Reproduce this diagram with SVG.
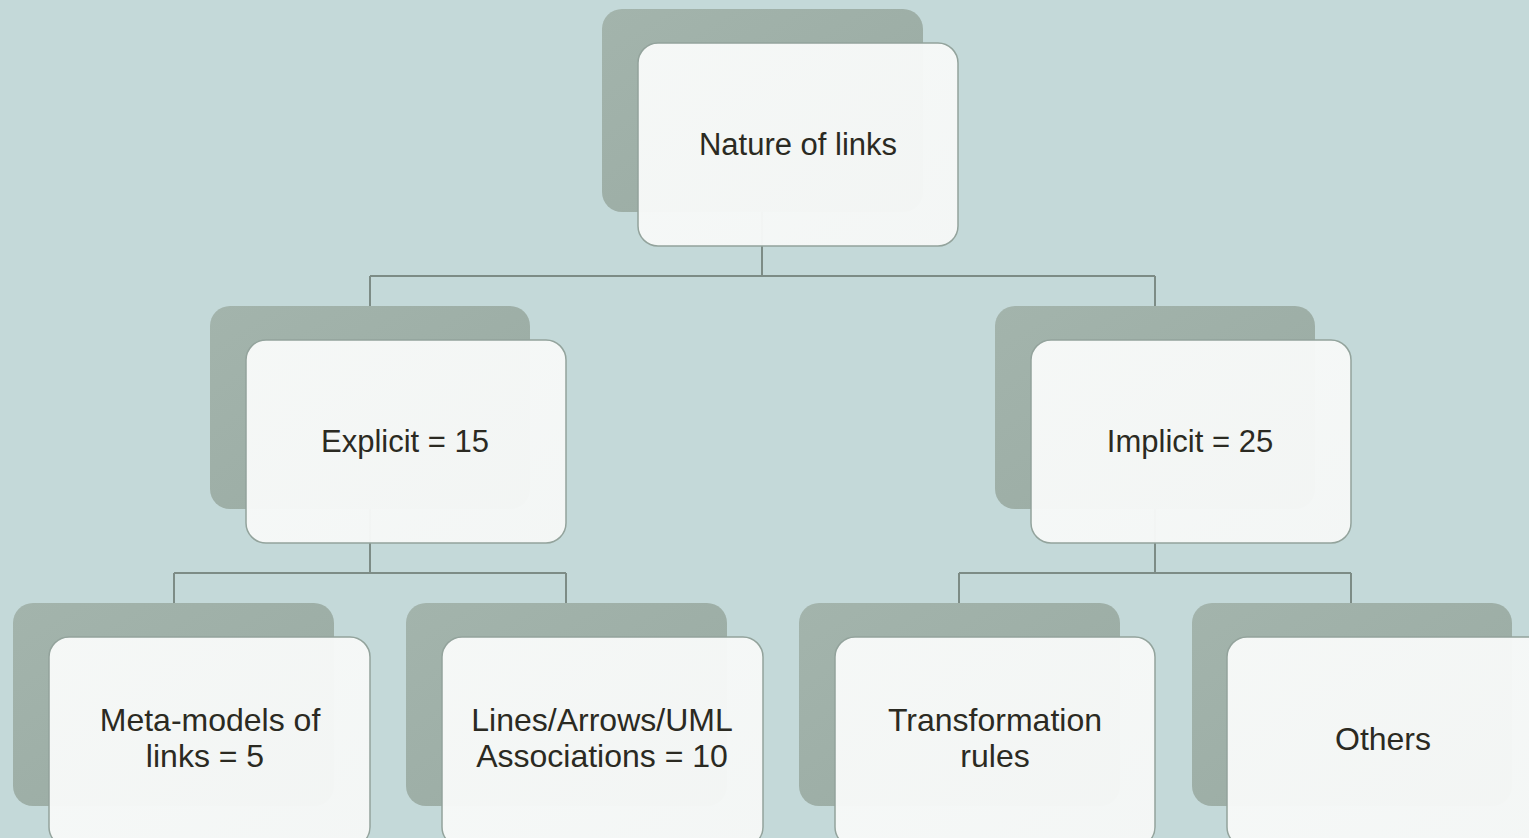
<svg xmlns="http://www.w3.org/2000/svg" width="1529" height="838" viewBox="0 0 1529 838">
  <defs>
    <linearGradient id="backFill" x1="0" y1="0" x2="1" y2="1">
      <stop offset="0" stop-color="#a3b4ac"/>
      <stop offset="1" stop-color="#99aaa2"/>
    </linearGradient>
    <linearGradient id="frontFill" x1="0" y1="0" x2="1" y2="1">
      <stop offset="0" stop-color="#f8faf9"/>
      <stop offset="1" stop-color="#f5f7f6"/>
    </linearGradient>
  </defs>
  <style>
    .back { fill: url(#backFill); }
    .front { fill: url(#frontFill); fill-opacity: 0.97; stroke: #93a39c; stroke-width: 1.5; }
    .conn { fill: none; stroke: #7d8c86; stroke-width: 2; }
    .t1 { font-family: "Liberation Sans", Arial, sans-serif; font-size: 31px; fill: #2b2a22; text-anchor: middle; }
    .t2 { font-family: "Liberation Sans", Arial, sans-serif; font-size: 32px; fill: #2b2a22; text-anchor: middle; }
  </style>
  <rect width="1529" height="838" fill="#c4d9d9"/>

  <g id="connectors">
    <path class="conn" d="M762 212 V276 M370 276 H1155 M370 276 V306 M1155 276 V306"/>
    <path class="conn" d="M370 509 V573 M174 573 H566 M174 573 V603 M566 573 V603"/>
    <path class="conn" d="M1155 509 V573 M959 573 H1351 M959 573 V603 M1351 573 V603"/>
  </g>

  <g id="nature">
    <rect class="back" x="602" y="9" width="321" height="203" rx="20"/>
    <rect class="front" x="638" y="43" width="320" height="203" rx="20"/>
    <text class="t1" x="798" y="155">Nature of links</text>
  </g>

  <g id="explicit">
    <rect class="back" x="210" y="306" width="320" height="203" rx="20"/>
    <rect class="front" x="246" y="340" width="320" height="203" rx="20"/>
    <text class="t1" x="405" y="452">Explicit = 15</text>
  </g>

  <g id="implicit">
    <rect class="back" x="995" y="306" width="320" height="203" rx="20"/>
    <rect class="front" x="1031" y="340" width="320" height="203" rx="20"/>
    <text class="t1" x="1190" y="452">Implicit = 25</text>
  </g>

  <g id="metamodels">
    <rect class="back" x="13" y="603" width="321" height="203" rx="20"/>
    <rect class="front" x="49" y="637" width="321" height="210" rx="20"/>
    <text class="t2" x="210" y="731">Meta-models of</text>
    <text class="t2" x="205" y="767">links = 5</text>
  </g>

  <g id="uml">
    <rect class="back" x="406" y="603" width="321" height="203" rx="20"/>
    <rect class="front" x="442" y="637" width="321" height="210" rx="20"/>
    <text class="t2" x="602" y="731">Lines/Arrows/UML</text>
    <text class="t2" x="602" y="767">Associations = 10</text>
  </g>

  <g id="transformation">
    <rect class="back" x="799" y="603" width="321" height="203" rx="20"/>
    <rect class="front" x="835" y="637" width="320" height="210" rx="20"/>
    <text class="t2" x="995" y="731">Transformation</text>
    <text class="t2" x="995" y="767">rules</text>
  </g>

  <g id="others">
    <rect class="back" x="1192" y="603" width="320" height="203" rx="20"/>
    <rect class="front" x="1227" y="637" width="321" height="210" rx="20"/>
    <text class="t2" x="1383" y="750">Others</text>
  </g>
</svg>
